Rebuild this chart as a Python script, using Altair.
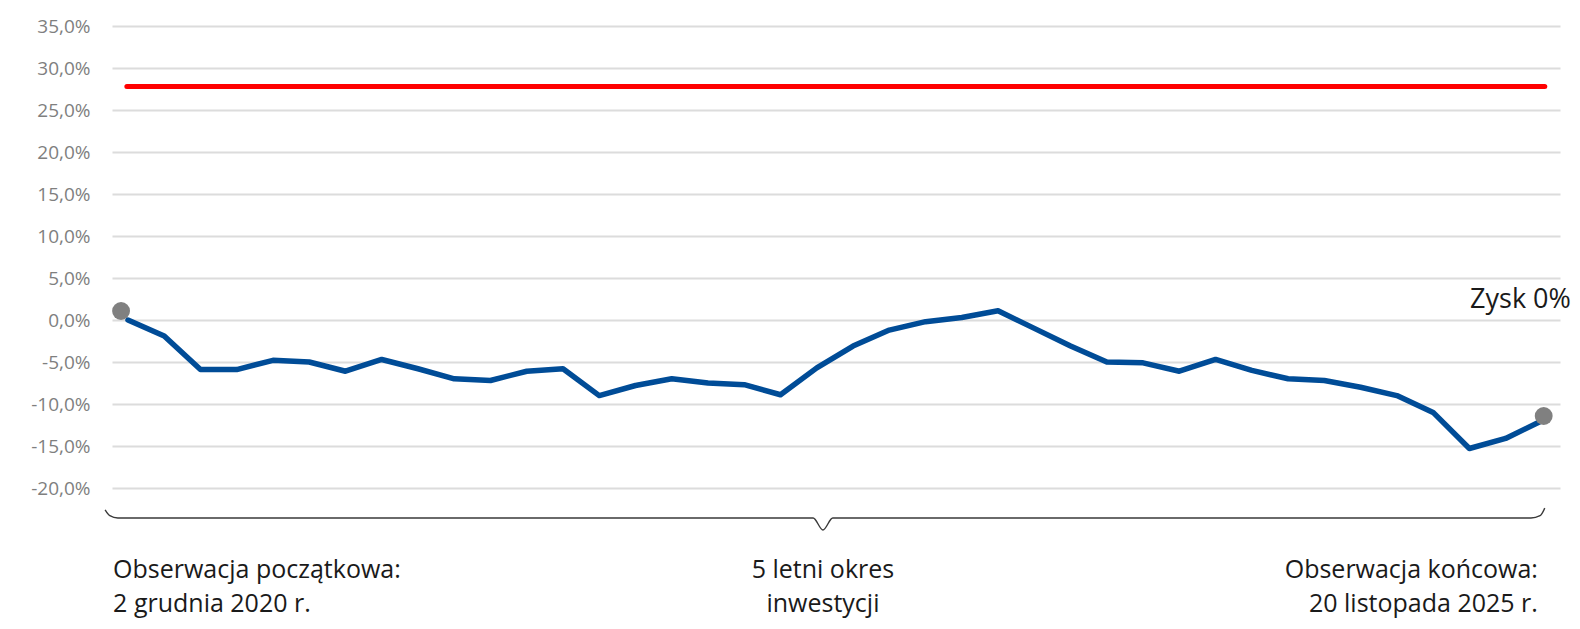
import altair as alt
import pandas as pd

# ---- data ----
obs_index = list(range(40))
returns_pct = [0.0, -1.9, -5.9, -5.9, -4.8, -5.0, -6.1, -4.7, -5.8, -7.0,
               -7.2, -6.1, -5.8, -9.0, -7.8, -7.0, -7.5, -7.7, -8.9, -5.7,
               -3.1, -1.2, -0.2, 0.3, 1.1, -1.0, -3.1, -5.0, -5.1, -6.1,
               -4.7, -6.0, -7.0, -7.2, -8.0, -9.0, -11.0, -15.3, -14.1, -12.0]
y_ticks = [-20, -15, -10, -5, 0, 5, 10, 15, 20, 25, 30, 35]
barrier_level = 27.8
barrier_start, barrier_end = -0.03, 39.08
dot_x = [-0.19, 39.05]
dot_y = [1.07, -11.43]

brace_x = [-0.63, -0.5, -0.28, 18.9, 19.17, 19.44, 38.7, 38.95, 39.08]
brace_y = [-22.6, -23.3, -23.57, -23.57, -25.0, -23.57, -23.57, -23.3, -22.4]

note_line1 = ["Obserwacja początkowa:", "5 letni okres", "Obserwacja końcowa:"]
note_line2 = ["2 grudnia 2020 r.", "inwestycji", "20 listopada 2025 r."]
note_x = [-0.41, 19.17, 38.89]
note_align = ["left", "center", "right"]
note_y1 = -30.7
note_y2 = -34.75

zysk_label = "Zysk 0%"
zysk_x = 39.80
zysk_y = 2.4

FONT = "Open Sans"

xscale = alt.Scale(domain=[-0.44, 39.50], nice=False, zero=False)
yscale = alt.Scale(domain=[-20, 35], nice=False, zero=False)
yaxis = alt.Axis(values=y_ticks, grid=True, domain=False, ticks=False,
                 labelExpr="(datum.value < 0 ? '-' : '') + abs(datum.value) + ',0%'",
                 title="")


def X(field):
    return alt.X(field, scale=xscale, axis=None)


def Y(field):
    return alt.Y(field, scale=yscale, axis=yaxis)


df = pd.DataFrame({"i": obs_index, "v": returns_pct})
line = alt.Chart(df).mark_line(color="#004c97", strokeWidth=5.5,
                               strokeJoin="round", strokeCap="round").encode(
    x=X("i:Q"), y=Y("v:Q"))

barrier_df = pd.DataFrame({"x": [barrier_start], "x2": [barrier_end], "y": [barrier_level]})
barrier = alt.Chart(barrier_df).mark_rule(color="#ff0000", strokeWidth=5,
                                          strokeCap="round").encode(
    x=X("x:Q"), x2="x2:Q", y=Y("y:Q"))

dots_df = pd.DataFrame({"x": dot_x, "y": dot_y})
dots = alt.Chart(dots_df).mark_circle(color="#808080", opacity=1, size=320).encode(
    x=X("x:Q"), y=Y("y:Q"))

brace_df = pd.DataFrame({"x": brace_x, "y": brace_y})
brace = alt.Chart(brace_df).mark_line(color="#3a3a3a", strokeWidth=1.4,
                                      interpolate="monotone").encode(
    x=X("x:Q"), y=Y("y:Q"))

text_df = pd.DataFrame({
    "x": note_x * 2,
    "y": [note_y1] * 3 + [note_y2] * 3,
    "t": note_line1 + note_line2,
    "a": note_align * 2,
})
texts = []
for al in note_align:
    texts.append(alt.Chart(text_df).transform_filter(
        alt.datum.a == al).mark_text(align=al, baseline="alphabetic", fontSize=25,
                                     font=FONT, color="#1a1a1a").encode(
        x=X("x:Q"), y=Y("y:Q"), text="t:N"))

zdf = pd.DataFrame({"x": [zysk_x], "y": [zysk_y], "t": [zysk_label]})
zysk = alt.Chart(zdf).mark_text(align="right", baseline="middle", fontSize=27,
                                font=FONT, color="#1a1a1a").encode(
    x=X("x:Q"), y=Y("y:Q"), text="t:N")

chart = alt.layer(line, barrier, brace, dots, zysk, *texts).properties(
    width=1448, height=462,
    autosize=alt.AutoSizeParams(type="none"),
    padding={"left": 104, "top": 18, "right": 12, "bottom": 132},
).configure_view(strokeWidth=0).configure_axis(
    gridColor="#dcdcdc", gridWidth=2, labelColor="#7f7f7f", labelFontSize=19,
    labelFont=FONT, labelPadding=22,
)

chart.save("out.html", embed_options={"renderer": "svg", "actions": False})
